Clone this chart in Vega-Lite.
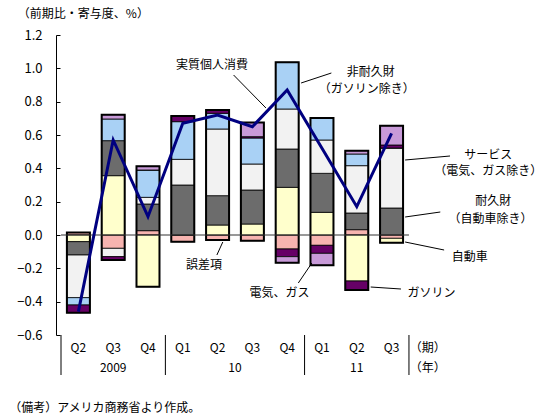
{
  "$schema": "https://vega.github.io/schema/vega-lite/v6.json",
  "width": 503,
  "height": 300,
  "autosize": "none",
  "padding": {"left": 56, "top": 35, "right": 0, "bottom": 85},
  "config": {
    "view": {"stroke": null},
    "font": "Noto Sans CJK JP",
    "text": {"font": "Noto Sans CJK JP", "fontSize": 12, "color": "black"},
    "axisY": {
      "tickCount": 10, "format": ".1f", "grid": false, "title": null, "labelOverlap": false,
      "domainColor": "black", "tickColor": "black", "tickSize": -4,
      "labelPadding": 18, "labelFontSize": 13, "labelColor": "black",
      "labelFont": "Noto Sans CJK JP"
    }
  },
  "datasets": {
    "comp": [
      {"c": "誤差項", "k": 1},
      {"c": "自動車", "k": 2},
      {"c": "耐久財（自動車除き）", "k": 3},
      {"c": "サービス（電気、ガス除き）", "k": 4},
      {"c": "非耐久財（ガソリン除き）", "k": 5},
      {"c": "ガソリン", "k": 6},
      {"c": "電気、ガス", "k": 7}
    ],
    "parts": [
      {"t": 2009.375, "c": "誤差項", "v": 0.015},
      {"t": 2009.375, "c": "自動車", "v": -0.04},
      {"t": 2009.375, "c": "耐久財（自動車除き）", "v": -0.08},
      {"t": 2009.375, "c": "サービス（電気、ガス除き）", "v": -0.256},
      {"t": 2009.375, "c": "非耐久財（ガソリン除き）", "v": -0.044},
      {"t": 2009.375, "c": "ガソリン", "v": -0.046},
      {"t": 2009.375, "c": "電気、ガス", "v": 0},
      {"t": 2009.625, "c": "誤差項", "v": -0.08},
      {"t": 2009.625, "c": "自動車", "v": 0.356},
      {"t": 2009.625, "c": "耐久財（自動車除き）", "v": 0.21},
      {"t": 2009.625, "c": "サービス（電気、ガス除き）", "v": -0.05},
      {"t": 2009.625, "c": "非耐久財（ガソリン除き）", "v": 0.13},
      {"t": 2009.625, "c": "ガソリン", "v": -0.02},
      {"t": 2009.625, "c": "電気、ガス", "v": 0.026},
      {"t": 2009.875, "c": "誤差項", "v": 0.026},
      {"t": 2009.875, "c": "自動車", "v": -0.31},
      {"t": 2009.875, "c": "耐久財（自動車除き）", "v": 0.16},
      {"t": 2009.875, "c": "サービス（電気、ガス除き）", "v": 0.04},
      {"t": 2009.875, "c": "非耐久財（ガソリン除き）", "v": 0.164},
      {"t": 2009.875, "c": "ガソリン", "v": 0},
      {"t": 2009.875, "c": "電気、ガス", "v": 0.022},
      {"t": 2010.125, "c": "誤差項", "v": -0.04},
      {"t": 2010.125, "c": "自動車", "v": 0},
      {"t": 2010.125, "c": "耐久財（自動車除き）", "v": 0.3},
      {"t": 2010.125, "c": "サービス（電気、ガス除き）", "v": 0.154},
      {"t": 2010.125, "c": "非耐久財（ガソリン除き）", "v": 0.226},
      {"t": 2010.125, "c": "ガソリン", "v": 0.034},
      {"t": 2010.125, "c": "電気、ガス", "v": 0},
      {"t": 2010.375, "c": "誤差項", "v": -0.03},
      {"t": 2010.375, "c": "自動車", "v": 0.06},
      {"t": 2010.375, "c": "耐久財（自動車除き）", "v": 0.176},
      {"t": 2010.375, "c": "サービス（電気、ガス除き）", "v": 0.4},
      {"t": 2010.375, "c": "非耐久財（ガソリン除き）", "v": 0.094},
      {"t": 2010.375, "c": "ガソリン", "v": 0.02},
      {"t": 2010.375, "c": "電気、ガス", "v": 0},
      {"t": 2010.625, "c": "誤差項", "v": -0.034},
      {"t": 2010.625, "c": "自動車", "v": 0.066},
      {"t": 2010.625, "c": "耐久財（自動車除き）", "v": 0.204},
      {"t": 2010.625, "c": "サービス（電気、ガス除き）", "v": 0.156},
      {"t": 2010.625, "c": "非耐久財（ガソリン除き）", "v": 0.156},
      {"t": 2010.625, "c": "ガソリン", "v": 0.008},
      {"t": 2010.625, "c": "電気、ガス", "v": 0.085},
      {"t": 2010.875, "c": "誤差項", "v": -0.084},
      {"t": 2010.875, "c": "自動車", "v": 0.286},
      {"t": 2010.875, "c": "耐久財（自動車除き）", "v": 0.23},
      {"t": 2010.875, "c": "サービス（電気、ガス除き）", "v": 0.24},
      {"t": 2010.875, "c": "非耐久財（ガソリン除き）", "v": 0.28},
      {"t": 2010.875, "c": "ガソリン", "v": -0.046},
      {"t": 2010.875, "c": "電気、ガス", "v": -0.036},
      {"t": 2011.125, "c": "誤差項", "v": -0.062},
      {"t": 2011.125, "c": "自動車", "v": 0.136},
      {"t": 2011.125, "c": "耐久財（自動車除き）", "v": 0.234},
      {"t": 2011.125, "c": "サービス（電気、ガス除き）", "v": 0.2},
      {"t": 2011.125, "c": "非耐久財（ガソリン除き）", "v": 0.132},
      {"t": 2011.125, "c": "ガソリン", "v": -0.048},
      {"t": 2011.125, "c": "電気、ガス", "v": -0.072},
      {"t": 2011.375, "c": "誤差項", "v": 0.032},
      {"t": 2011.375, "c": "自動車", "v": -0.276},
      {"t": 2011.375, "c": "耐久財（自動車除き）", "v": 0.1},
      {"t": 2011.375, "c": "サービス（電気、ガス除き）", "v": 0.284},
      {"t": 2011.375, "c": "非耐久財（ガソリン除き）", "v": 0.07},
      {"t": 2011.375, "c": "ガソリン", "v": -0.054},
      {"t": 2011.375, "c": "電気、ガス", "v": 0.02},
      {"t": 2011.625, "c": "誤差項", "v": -0.02},
      {"t": 2011.625, "c": "自動車", "v": -0.026},
      {"t": 2011.625, "c": "耐久財（自動車除き）", "v": 0.162},
      {"t": 2011.625, "c": "サービス（電気、ガス除き）", "v": 0.36},
      {"t": 2011.625, "c": "非耐久財（ガソリン除き）", "v": 0},
      {"t": 2011.625, "c": "ガソリン", "v": 0.018},
      {"t": 2011.625, "c": "電気、ガス", "v": 0.116}
    ],
    "total": [
      {"t": 2009.375, "v": -0.46},
      {"t": 2009.625, "v": 0.57},
      {"t": 2009.875, "v": 0.11},
      {"t": 2010.125, "v": 0.67},
      {"t": 2010.375, "v": 0.72},
      {"t": 2010.625, "v": 0.65},
      {"t": 2010.875, "v": 0.87},
      {"t": 2011.125, "v": 0.52},
      {"t": 2011.375, "v": 0.17},
      {"t": 2011.625, "v": 0.61}
    ],
    "ann": [
      {"t": 2010.335, "v": 1.02, "s": "実質個人消費"},
      {"t": 2011.475, "v": 0.981, "s": "非耐久財"},
      {"t": 2011.4475, "v": 0.876, "s": "（ガソリン除き）"},
      {"t": 2012.32, "v": 0.483, "s": "サービス"},
      {"t": 2012.32, "v": 0.384, "s": "（電気、ガス除き）"},
      {"t": 2012.355, "v": 0.204, "s": "耐久財"},
      {"t": 2012.335, "v": 0.099, "s": "（自動車除き）"},
      {"t": 2012.1875, "v": -0.132, "s": "自動車"},
      {"t": 2011.9125, "v": -0.348, "s": "ガソリン"},
      {"t": 2010.82, "v": -0.348, "s": "電気、ガス"},
      {"t": 2010.2775, "v": -0.18, "s": "誤差項"},
      {"t": 2009.375, "v": -0.678, "s": "Q2"},
      {"t": 2009.625, "v": -0.678, "s": "Q3"},
      {"t": 2009.875, "v": -0.678, "s": "Q4"},
      {"t": 2010.125, "v": -0.678, "s": "Q1"},
      {"t": 2010.375, "v": -0.678, "s": "Q2"},
      {"t": 2010.625, "v": -0.678, "s": "Q3"},
      {"t": 2010.875, "v": -0.678, "s": "Q4"},
      {"t": 2011.125, "v": -0.678, "s": "Q1"},
      {"t": 2011.375, "v": -0.678, "s": "Q2"},
      {"t": 2011.625, "v": -0.678, "s": "Q3"},
      {"t": 2009.625, "v": -0.798, "s": "2009"},
      {"t": 2010.5, "v": -0.798, "s": "10"},
      {"t": 2011.375, "v": -0.798, "s": "11"},
      {"t": 2011.885, "v": -0.678, "s": "（期）"},
      {"t": 2011.885, "v": -0.798, "s": "（年）"}
    ],
    "left": [
      {"t": 2008.94, "v": 1.326, "s": "（前期比・寄与度、%）"},
      {"t": 2008.8775, "v": -1.04, "s": "（備考）アメリカ商務省より作成。"}
    ],
    "arrows": [
      {"t": 2010.49, "v": 0.96, "t2": 2010.7225, "v2": 0.762},
      {"t": 2011.1925, "v": 0.972, "t2": 2010.975, "v2": 0.912},
      {"t": 2012.045, "v": 0.474, "t2": 2011.7225, "v2": 0.45},
      {"t": 2011.975, "v": 0.138, "t2": 2011.7225, "v2": 0.108},
      {"t": 2012.0025, "v": -0.09, "t2": 2011.7225, "v2": -0.042},
      {"t": 2011.6925, "v": -0.324, "t2": 2011.475, "v2": -0.312},
      {"t": 2010.955, "v": -0.288, "t2": 2011.0525, "v2": -0.168},
      {"t": 2010.37, "v": -0.12, "t2": 2010.4125, "v2": -0.042}
    ],
    "seps": [
      {"t": 2009.25, "v": -0.6, "v2": -0.84},
      {"t": 2010, "v": -0.6, "v2": -0.84},
      {"t": 2011, "v": -0.6, "v2": -0.84},
      {"t": 2011.75, "v": -0.6, "v2": -0.84}
    ],
    "zero": [
      {"t": 2009.25, "t2": 2011.75, "v": 0}
    ]
  },
  "layer": [
    {
      "data": {"name": "parts"},
      "transform": [
        {"lookup": "c", "from": {"data": {"name": "comp"}, "key": "c", "fields": ["k"]}}
      ],
      "mark": {"type": "bar", "width": 23, "stroke": "black", "strokeWidth": 0.8},
      "encoding": {
        "x": {"field": "t", "type": "quantitative", "scale": {"domain": [2009.25, 2012.792], "nice": false, "zero": false}, "axis": null},
        "y": {
          "field": "v", "type": "quantitative", "stack": "zero",
          "scale": {"domain": [-0.6, 1.2], "nice": false}
        },
        "order": {"field": "k", "type": "quantitative", "sort": "ascending"},
        "color": {
          "field": "c", "type": "nominal", "legend": null,
          "scale": {
            "domain": ["誤差項", "自動車", "耐久財（自動車除き）", "サービス（電気、ガス除き）", "非耐久財（ガソリン除き）", "ガソリン", "電気、ガス"],
            "range": ["#f7b4b0", "#ffffcc", "#6c6c6c", "#f2f2f2", "#a9d1f5", "#660066", "#c89ad8"]
          }
        }
      }
    },
    {
      "data": {"name": "parts"},
      "transform": [
        {"stack": "v", "groupby": ["t"], "offset": "zero", "as": ["s0", "s1"]},
        {"aggregate": [{"op": "min", "field": "s1", "as": "lo"}, {"op": "max", "field": "s1", "as": "hi"}], "groupby": ["t"]}
      ],
      "mark": {"type": "bar", "width": 23, "fill": null, "fillOpacity": 0, "stroke": "black", "strokeWidth": 2},
      "encoding": {
        "x": {"field": "t", "type": "quantitative", "axis": null},
        "y": {"field": "lo", "type": "quantitative"},
        "y2": {"field": "hi"}
      }
    },
    {
      "data": {"name": "zero"},
      "mark": {"type": "rule", "color": "#333", "strokeWidth": 1},
      "encoding": {
        "x": {"field": "t", "type": "quantitative", "axis": null},
        "x2": {"field": "t2"},
        "y": {"field": "v", "type": "quantitative"}
      }
    },
    {
      "data": {"name": "total"},
      "mark": {"type": "line", "color": "#000080", "strokeWidth": 3},
      "encoding": {
        "x": {"field": "t", "type": "quantitative", "axis": null},
        "y": {"field": "v", "type": "quantitative"}
      }
    },
    {
      "data": {"name": "seps"},
      "mark": {"type": "rule", "color": "black", "strokeWidth": 1},
      "encoding": {
        "x": {"field": "t", "type": "quantitative", "axis": null},
        "y": {"field": "v", "type": "quantitative"},
        "y2": {"field": "v2"}
      }
    },
    {
      "data": {"name": "arrows"},
      "mark": {"type": "rule", "color": "black", "strokeWidth": 1},
      "encoding": {
        "x": {"field": "t", "type": "quantitative", "axis": null},
        "y": {"field": "v", "type": "quantitative"},
        "x2": {"field": "t2"},
        "y2": {"field": "v2"}
      }
    },
    {
      "data": {"name": "ann"},
      "mark": {"type": "text", "align": "center", "baseline": "middle"},
      "encoding": {
        "x": {"field": "t", "type": "quantitative", "axis": null},
        "y": {"field": "v", "type": "quantitative"},
        "text": {"field": "s"}
      }
    },
    {
      "data": {"name": "left"},
      "mark": {"type": "text", "align": "left", "baseline": "middle", "fontSize": 12},
      "encoding": {
        "x": {"field": "t", "type": "quantitative", "axis": null},
        "y": {"field": "v", "type": "quantitative"},
        "text": {"field": "s"}
      }
    }
  ]
}
